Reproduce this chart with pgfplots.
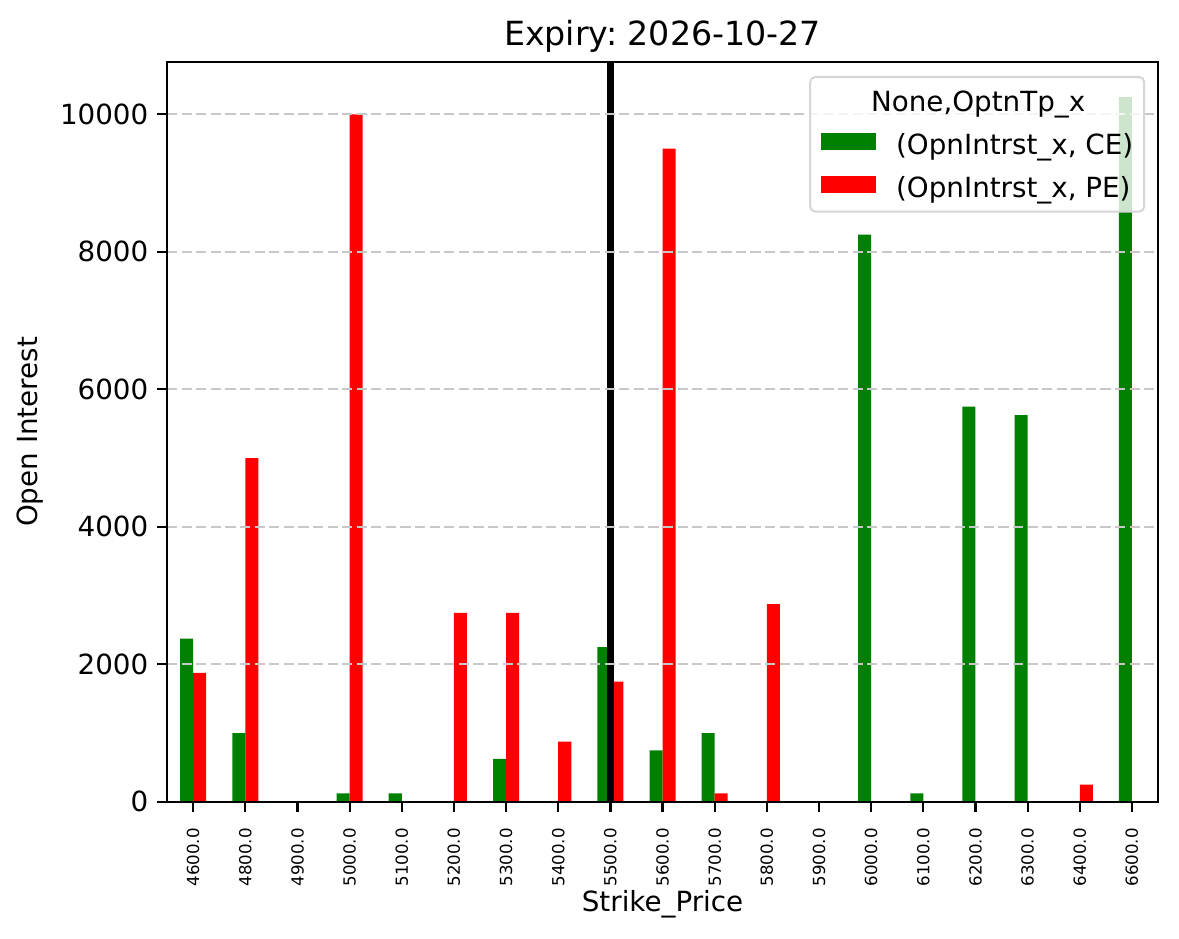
\documentclass[border=0pt]{standalone}
\usepackage{pgfplots}
\pgfplotsset{compat=1.18}
\usepackage{fontspec}
\setmainfont{DejaVu Sans}
\frenchspacing

\definecolor{cegreen}{RGB}{0,128,0}
\definecolor{pered}{RGB}{255,0,0}
\definecolor{gridgray}{RGB}{200,200,200}
\definecolor{legframe}{RGB}{214,214,214}

% strike index, CE open interest, PE open interest
\pgfplotstableread{
idx ce pe
0 2375 1875
1 1000 5000
2 0 0
3 125 10000
4 125 0
5 0 2750
6 625 2750
7 0 875
8 2250 1750
9 750 9500
10 1000 125
11 0 2875
12 0 0
13 8250 0
14 125 0
15 5750 0
16 5625 0
17 0 250
18 10250 0
}\oidata

\begin{document}
\begin{tikzpicture}
\useasboundingbox (-65.3pt,-53.5pt) rectangle (395.5pt,313.4pt);
\begin{axis}[
    axis on top,
    scale only axis,
    width=387.3pt, height=289.2pt,
    xmin=-0.5, xmax=18.5,
    ymin=0, ymax=10762.5,
    xtick={0,...,18},
    xticklabels={4600.0,4800.0,4900.0,5000.0,5100.0,5200.0,5300.0,5400.0,5500.0,5600.0,5700.0,5800.0,5900.0,6000.0,6100.0,6200.0,6300.0,6400.0,6600.0},
    ytick={0,2000,4000,6000,8000,10000},
    scaled y ticks=false,
    yticklabel style={/pgf/number format/1000 sep={}, /pgf/number format/assume math mode=true},
    tick align=outside,
    xtick pos=bottom, ytick pos=left,
    major tick length=3.8pt,
    tick style={black, line width=0.87pt},
    axis line style={black, line width=0.87pt},
    ymajorgrids,
    major grid style={gridgray, line width=0.87pt, dash pattern=on 4pt off 1.7pt},
    ticklabel style={font=\fontsize{10.85}{13}\selectfont},
    xticklabel style={rotate=90, anchor=east, font=\fontsize{6.5}{7.5}\selectfont},
    xticklabel shift=3pt,
    title={Expiry: 2026-10-27},
    title style={at={(axis description cs:0.5,1)}, anchor=base, yshift=0.3pt, font=\fontsize{13}{15}\selectfont},
    xlabel={Strike\_Price},
    xlabel style={at={(axis description cs:0.5,-0.1487)}, anchor=base, font=\fontsize{10.85}{13}\selectfont},
    ylabel={Open Interest},
    ylabel style={at={(axis description cs:-0.1304,0.5)}, anchor=base, font=\fontsize{10.85}{13}\selectfont},
    legend cell align=left,
    legend style={at={(1,1)}, anchor=north east, xshift=-5pt, yshift=-5.5pt,
        draw=legframe, line width=0.8pt, rounded corners=2pt,
        fill=white, fill opacity=0.8, text opacity=1,
        inner xsep=4.3pt, inner ysep=3.5pt, column sep=7.8pt, row sep=4.8pt,
        font=\fontsize{10.85}{13}\selectfont,
        nodes={inner sep=0pt, text height=9.8pt, text depth=2.2pt}},
]
\addlegendimage{empty legend}
\addplot[ybar, bar width=0.25, bar shift=-0.125, draw=none, fill=cegreen, fill opacity=1,
    legend image code/.code={\fill[cegreen, fill opacity=1, sharp corners] (0pt,-2.4pt) rectangle (21.5pt,4.6pt);}]
    table[x=idx, y=ce] {\oidata};
\addplot[ybar, bar width=0.25, bar shift=0.125, draw=none, fill=pered, fill opacity=1,
    legend image code/.code={\fill[pered, fill opacity=1, sharp corners] (0pt,-2.4pt) rectangle (21.5pt,4.6pt);}]
    table[x=idx, y=pe] {\oidata};
% spot strike marker
\addplot[black, line width=2.7pt, forget plot] coordinates {(8,0) (8,10762.5)};
\legend{{\hspace*{-9.8pt}None,OptnTp\_x},{(OpnIntrst\_x, CE)},{(OpnIntrst\_x, PE)}}
\end{axis}
\end{tikzpicture}
\end{document}
